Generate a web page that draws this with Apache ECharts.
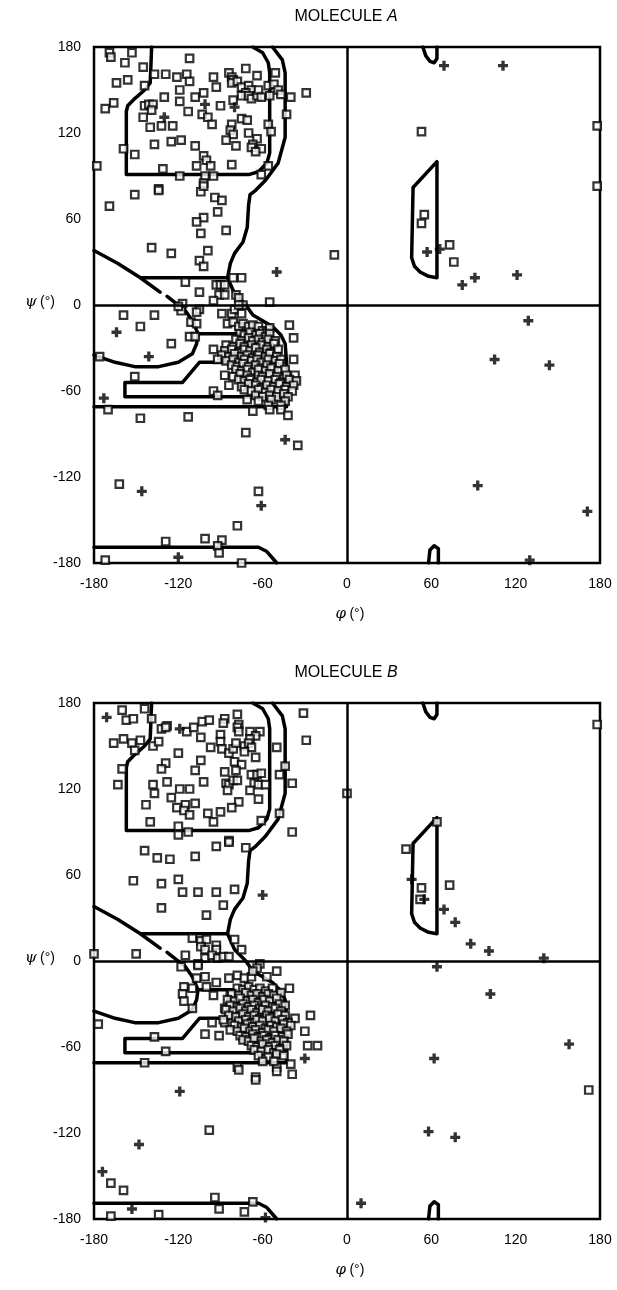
<!DOCTYPE html>
<html>
<head>
<meta charset="utf-8">
<script src="https://cdn.jsdelivr.net/npm/echarts@6/dist/echarts.min.js"></script>
<style>
  html, body { margin: 0; padding: 0; background: #fff; }
  #rama { width: 617px; height: 1290px; }
</style>
</head>
<body>
<div id="rama"></div>
<script>
// 坐标轴刻度
const ticks = [-180, -120, -60, 0, 60, 120, 180];

// 允许区域边界 (phi, psi)
const betaInner = [[-139,180],[-140,155],[-144,150],[-151,144],[-156,139],[-157,135],[-157,91],[-70,91],[-63,93],[-57,99],[-55,106],[-55,162],[-56,169],[-60,176],[-67,180]];
const betaOuter = [[-53,180],[-46,171],[-44,162],[-44,117],[-49,99],[-58,87],[-65,80],[-69,77],[-70,70],[-71,54],[-74,44],[-80,36],[-83,29],[-85,19],[-147,19]];
const bridgeUp = [[-180,38],[-163,29],[-147,19],[-133,9]];
const bridgeDown = [[-128,6],[-115,-4],[-110,-11],[-106,-20]];
const bowl = [[-180,-35],[-165,-40],[-151,-43],[-134,-43],[-120,-40],[-110,-34],[-107,-27],[-106,-20],[-77,-20]];
const alphaOuter = [[-85,19],[-80,8],[-72,0],[-67,-7],[-60,-11],[-53,-15],[-47,-21],[-44,-27],[-43,-40],[-43,-71],[-180,-71]];
const alphaArm = [[-77,-40],[-105,-40],[-117,-54],[-158,-54],[-158,-64],[-44,-64]];
const bottomLeft = [[-180,-169],[-63,-169],[-57,-172],[-50,-180]];
const topRight = [[54,180],[56,174],[59,170],[62,169],[64,172],[64,180]];
const bottomRight = [[58,-180],[59,-171],[62,-168],[65,-170],[65,-180]];
const alphaLeft = [[64,100],[47,82],[46,33],[48,27],[52,23],[58,20],[64,19],[64,100]];
const contours = [betaInner, betaOuter, bridgeUp, bridgeDown, bowl, alphaOuter, alphaArm, bottomLeft, topRight, bottomRight, alphaLeft];

// 分子A: 非甘氨酸残基
const residA = [
  [-169,176],[-168,173],[-153,176],[-158,169],[-145,166],[-164,155],[-156,157],[-144,153],[-166,141],[-172,137],
  [-144,139],[-141,140],[-138,140],[-139,136],[-145,131],[-140,124],[-132,125],[-124,125],[-159,109],[-151,105],
  [-178,97],[-137,112],[-125,114],[-118,115],[-131,95],[-119,90],[-134,81],[-137,161],[-129,161],[-121,159],
  [-114,161],[-112,156],[-112,172],[-119,150],[-130,145],[-119,142],[-113,135],[-108,111],[-102,104],[-100,101],
  [-97,97],[-107,97],[-101,90],[-95,90],[-102,85],[-108,145],[-102,148],[-103,133],[-99,131],[-96,126],
  [-95,159],[-93,152],[-90,139],[-84,162],[-82,159],[-81,157],[-82,155],[-78,156],[-72,165],[-64,160],
  [-75,152],[-70,153],[-68,150],[-72,148],[-75,146],[-70,146],[-68,144],[-64,146],[-63,150],[-61,145],
  [-81,143],[-75,130],[-71,129],[-82,126],[-83,122],[-81,119],[-86,115],[-70,120],[-64,116],[-67,112],
  [-68,110],[-61,109],[-65,107],[-79,111],[-82,98],[-56,126],[-54,121],[-56,153],[-52,154],[-49,150],
  [-47,147],[-55,146],[-51,162],[-40,145],[-43,133],[-29,148],[-61,91],[-56,97],
  [-151,77],[-134,80],[-104,79],[-102,83],[-94,75],[-89,73],[-169,69],[-92,65],[-102,61],[-107,58],
  [-104,50],[-86,52],[-139,40],[-125,36],[-99,38],[-105,31],[-102,27],[-9,35],[-115,16],[-105,9],
  [-93,14],[-90,14],[-87,14],[-81,19],[-75,19],[-91,7],[-87,7],[-79,7],[-77,5],[-95,3],
  [-74,0],[-55,2],[-117,1],[-105,-3],
  [-159,-7],[-137,-7],[-147,-15],[-125,-27],[-176,-36],[-151,-50],[-170,-73],[-118,-4],[-120,-1],[-107,-5],
  [-111,-12],[-107,-13],[-112,-22],[-108,-22],[-95,-31],[-89,-6],[-82,-6],[-80,-3],[-77,0],[-75,-6],
  [-85,-13],[-81,-12],[-77,-15],[-74,-13],[-70,-15],[-67,-14],[-63,-15],[-60,-18],[-57,-19],[-55,-16],
  [-41,-14],[-38,-23],[-38,-38],[-95,-60],[-92,-63],
  [-76,-20],[-73,-21],[-69,-19],[-65,-21],[-62,-20],[-58,-22],[-55,-20],
  [-79,-24],[-75,-25],[-70,-23],[-67,-25],[-63,-24],[-60,-26],[-56,-24],[-51,-25],
  [-86,-28],[-81,-29],[-76,-27],[-73,-29],[-68,-28],[-64,-30],[-61,-28],[-56,-29],[-52,-27],
  [-87,-32],[-82,-31],[-77,-33],[-73,-31],[-69,-32],[-65,-30],[-62,-33],[-57,-31],[-54,-33],[-49,-31],
  [-89,-35],[-84,-36],[-80,-34],[-75,-36],[-71,-35],[-67,-37],[-63,-35],[-58,-36],[-55,-34],[-50,-36],
  [-92,-38],[-86,-39],[-81,-38],[-77,-40],[-73,-38],[-68,-39],[-64,-38],[-61,-40],[-56,-38],[-51,-39],[-47,-38],
  [-82,-42],[-78,-43],[-74,-41],[-70,-43],[-65,-42],[-61,-44],[-57,-42],[-52,-43],[-48,-41],
  [-79,-45],[-75,-46],[-71,-45],[-67,-47],[-63,-45],[-58,-46],[-54,-44],[-49,-46],[-44,-45],
  [-87,-49],[-81,-50],[-76,-48],[-71,-49],[-68,-51],[-63,-49],[-60,-50],[-55,-48],[-50,-50],[-43,-49],[-37,-49],
  [-77,-52],[-73,-53],[-69,-52],[-64,-54],[-61,-52],[-56,-53],[-51,-52],[-47,-54],[-41,-52],[-36,-53],
  [-84,-56],[-75,-57],[-70,-55],[-65,-56],[-61,-58],[-57,-56],[-52,-57],[-48,-55],[-43,-57],[-38,-56],
  [-73,-59],[-68,-60],[-63,-59],[-58,-61],[-54,-59],[-49,-60],[-44,-59],[-39,-60],
  [-65,-63],[-60,-64],[-55,-63],[-50,-64],[-45,-62],[-42,-64],
  [-71,-66],[-63,-67],[-54,-66],[-44,-67],[-56,-70],[-47,-70],
  [-147,-79],[-113,-78],[-67,-74],[-55,-73],[-47,-73],[-42,-77],[-72,-89],[-35,-98],[-162,-125],[-63,-130],
  [-78,-154],[-129,-165],[-101,-163],[-89,-164],[-92,-168],[-91,-173],[-172,-178],[-75,-180],
  [53,121],[178,125],[178,83],[55,63],[53,57],[73,42],[76,30]
];
// 分子A: 甘氨酸
const glyA = [
  [-130,131],[-101,140],[-80,138],[-50,23],[-164,-19],[-141,-36],[-173,-65],[-44,-94],[-146,-130],[-61,-140],
  [-120,-176],[69,167],[111,167],[57,37],[66,39],[91,19],[82,14],[121,21],[129,-11],[105,-38],
  [144,-42],[93,-126],[171,-144],[130,-178]
];

// 分子B: 非甘氨酸残基
const residB = [
  [-160,175],[-157,168],[-152,169],[-144,176],[-139,169],[-132,162],[-128,164],[-114,160],[-109,163],[-103,167],
  [-98,168],[-87,169],[-88,166],[-78,172],[-77,165],[-78,163],[-77,160],[-69,160],[-62,160],[-65,157],
  [-69,155],[-90,158],[-90,153],[-89,148],[-104,156],[-97,149],[-84,145],[-81,148],[-79,152],[-73,150],
  [-70,152],[-68,149],[-73,146],[-65,142],[-80,139],[-75,137],[-79,133],[-68,130],[-64,130],[-61,131],
  [-87,132],[-86,124],[-84,123],[-85,119],[-81,126],[-78,126],[-66,124],[-63,123],[-58,123],[-69,119],
  [-63,113],[-77,111],[-82,107],[-90,104],[-99,103],[-95,97],[-120,145],[-104,140],[-129,138],[-132,134],
  [-108,133],[-128,125],[-102,125],[-138,123],[-137,117],[-119,120],[-112,120],[-125,114],[-108,110],[-115,109],
  [-121,107],[-116,105],[-112,102],[-143,109],[-140,97],[-120,94],[-120,88],[-113,90],[-61,98],[-48,103],
  [-48,130],[-50,149],[-44,136],[-39,124],[-31,173],[-29,154],[-39,90],[0,117],[-163,123],[-160,134],
  [-166,152],[-159,155],[-153,152],[-147,154],[-151,147],[-138,150],[-134,153],[-129,163],[-84,84],
  [-144,77],[-135,72],[-126,71],[-108,73],[-93,80],[-84,83],[-72,79],[-152,56],[-132,54],[-120,57],
  [-117,48],[-106,48],[-93,48],[-80,50],[-132,37],[-88,39],[-100,32],[-180,5],[-150,5],[-115,4],
  [-110,16],[-104,14],[-100,15],[-104,10],[-101,8],[-93,11],[-93,8],[-80,15],[-75,8],[-101,2],
  [-96,4],[-92,2],[-88,3],[-84,3],[-106,-2],[-62,-2],
  [-118,-4],[-106,-3],[-107,-12],[-101,-11],[-93,-15],[-84,-12],[-78,-10],[-73,-12],[-68,-11],[-64,-5],
  [-67,-7],[-57,-11],[-50,-7],[-116,-18],[-110,-19],[-100,-18],[-117,-23],[-116,-28],[-110,-33],[-95,-24],
  [-87,-33],[-83,-24],[-177,-44],[-137,-53],[-129,-63],[-144,-71],[-101,-51],[-91,-52],[-96,-43],[-87,-43],
  [-78,-74],[-65,-81],[-50,-74],[-40,-72],[-26,-38],[-30,-49],[-28,-59],[-21,-59],[-41,-19],[-37,-40],
  [-78,-19],[-74,-20],[-70,-18],[-66,-20],[-62,-19],[-58,-21],[-53,-19],
  [-82,-23],[-77,-24],[-72,-22],[-68,-24],[-64,-23],[-60,-25],[-56,-23],[-52,-24],[-47,-22],
  [-85,-27],[-80,-28],[-76,-26],[-71,-28],[-67,-27],[-63,-29],[-59,-27],[-55,-28],[-50,-26],
  [-83,-31],[-78,-32],[-74,-30],[-70,-32],[-66,-31],[-62,-33],[-58,-31],[-53,-32],[-48,-30],[-44,-31],
  [-86,-34],[-81,-35],[-76,-33],[-72,-35],[-68,-34],[-64,-36],[-60,-34],[-56,-35],[-51,-33],[-47,-35],
  [-84,-38],[-79,-39],[-74,-37],[-70,-39],[-66,-38],[-62,-40],[-57,-38],[-53,-39],[-49,-37],[-44,-38],
  [-88,-41],[-77,-42],[-72,-41],[-68,-43],[-64,-41],[-60,-42],[-55,-40],[-51,-42],[-46,-41],[-42,-43],
  [-80,-45],[-75,-46],[-71,-44],[-67,-46],[-62,-45],[-58,-47],[-54,-45],[-50,-46],[-45,-44],[-40,-45],
  [-83,-48],[-78,-49],[-73,-47],[-69,-49],[-65,-48],[-60,-50],[-56,-48],[-52,-49],[-47,-47],[-43,-49],
  [-76,-52],[-72,-53],[-67,-51],[-63,-53],[-59,-52],[-55,-54],[-51,-52],[-46,-53],[-42,-51],
  [-74,-55],[-70,-56],[-66,-54],[-61,-56],[-57,-55],[-53,-57],[-49,-55],[-45,-56],
  [-68,-59],[-64,-60],[-60,-58],[-55,-60],[-51,-59],[-47,-61],[-43,-59],
  [-66,-62],[-61,-63],[-56,-62],[-52,-64],[-48,-62],
  [-63,-66],[-56,-67],[-50,-65],[-45,-66],[-60,-70],[-52,-70],
  [-77,-76],[-50,-77],[-39,-79],[-65,-83],[-98,-118],[-168,-155],[-159,-160],[-94,-165],[-91,-173],[-73,-175],
  [-67,-168],[-168,-178],[-134,-177],
  [178,165],[64,97],[42,78],[53,51],[52,43],[73,53],[172,-90]
];
// 分子B: 甘氨酸
const glyB = [
  [-171,170],[-119,162],[-60,46],[-30,-68],[-119,-91],[-148,-128],[-174,-147],[-153,-173],[-58,-179],[46,57],
  [55,43],[69,36],[77,27],[88,12],[101,7],[140,2],[64,-4],[102,-23],[158,-58],[62,-68],
  [58,-119],[77,-123],[10,-169]
];

const panels = [
  { name: "A", resid: residA, gly: glyA, top: 47 },
  { name: "B", resid: residB, gly: glyB, top: 703 },
];

const font = "'Liberation Sans', Arial, sans-serif";
const plusPath = "path://M3,0h3v3h3v3h-3v3h-3v-3h-3v-3h3z";

const chart = echarts.init(document.getElementById("rama"), null, { renderer: "canvas" });

let grids = [], xAxes = [], yAxes = [], series = [], graphics = [];
panels.forEach((p, i) => {
  grids.push({
    left: 94, top: p.top, width: 506, height: 516,
    show: true, borderColor: "#000", borderWidth: 2.5, backgroundColor: "#fff",
  });
  const axisCommon = {
    gridIndex: i, type: "value", min: -180, max: 180, interval: 60,
    axisLine: { show: false }, axisTick: { show: false }, splitLine: { show: false },
    axisLabel: { color: "#000", fontSize: 14, fontFamily: font, customValues: ticks },
  };
  xAxes.push(Object.assign({}, axisCommon, { axisLabel: Object.assign({}, axisCommon.axisLabel, { margin: 14 }) }));
  yAxes.push(Object.assign({}, axisCommon, { axisLabel: Object.assign({}, axisCommon.axisLabel, { margin: 13 }) }));

  contours.forEach((c) => {
    series.push({
      type: "line", xAxisIndex: i, yAxisIndex: i, data: c,
      showSymbol: false, silent: true, z: 2,
      lineStyle: { color: "#000", width: 3.5, join: "round", cap: "round" },
    });
  });
  series.push({
    type: "scatter", xAxisIndex: i, yAxisIndex: i, data: p.resid,
    symbol: "rect", symbolSize: 7.5, z: 4,
    itemStyle: { color: "#fff", borderColor: "#000", borderWidth: 2.2 },
    markLine: {
      silent: true, symbol: "none", label: { show: false },
      lineStyle: { color: "#000", width: 2.5, type: "solid" },
      data: [{ xAxis: 0 }, { yAxis: 0 }],
    },
  });
  series.push({
    type: "scatter", xAxisIndex: i, yAxisIndex: i, data: p.gly,
    symbol: plusPath, symbolSize: 10, z: 5,
    itemStyle: { color: "#000" },
  });

  graphics.push({
    type: "text", x: 346, y: p.top - 30,
    style: {
      text: "{n|MOLECULE }{i|" + p.name + "}", align: "center", verticalAlign: "middle",
      rich: {
        n: { fontFamily: font, fontSize: 16, fill: "#000" },
        i: { fontFamily: font, fontSize: 16, fontStyle: "italic", fill: "#000" },
      },
    },
  });
  graphics.push({
    type: "text", x: 40, y: p.top + 255,
    style: {
      text: "{i|ψ} {n|(°)}", align: "center", verticalAlign: "middle",
      rich: {
        n: { fontFamily: font, fontSize: 14, fill: "#000" },
        i: { fontFamily: "'DejaVu Serif', serif", fontSize: 15, fontStyle: "italic", fill: "#000" },
      },
    },
  });
  graphics.push({
    type: "text", x: 350, y: p.top + 567,
    style: {
      text: "{i|φ} {n|(°)}", align: "center", verticalAlign: "middle",
      rich: {
        n: { fontFamily: font, fontSize: 14, fill: "#000" },
        i: { fontFamily: "'DejaVu Serif', serif", fontSize: 15, fontStyle: "italic", fill: "#000" },
      },
    },
  });
});

const option = {
  backgroundColor: "#fff",
  animation: false,
  grid: grids,
  xAxis: xAxes,
  yAxis: yAxes,
  series: series,
  graphic: graphics,
};

chart.setOption(option);
</script>
</body>
</html>
